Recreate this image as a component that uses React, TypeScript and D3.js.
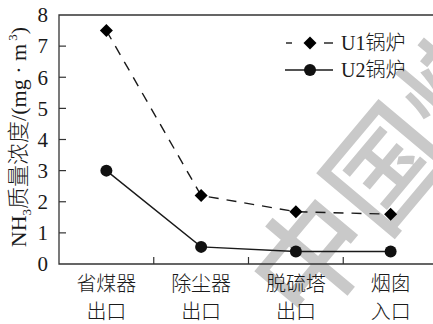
import React from "react";
import * as d3 from "d3";

const categories = ["省煤器|出口", "除尘器|出口", "脱硫塔|出口", "烟囱|入口"];
const u1Values = [7.5, 2.2, 1.68, 1.6];
const u2Values = [3.0, 0.55, 0.4, 0.4];
const yTicks = [0, 1, 2, 3, 4, 5, 6, 7, 8];
const seriesNames = ["U1锅炉", "U2锅炉"];

const W = 433;
const H = 324;
const left = 59;
const top = 15;
const bottom = 264;
const bandRight = 438;

const FONT = "'Liberation Serif', 'Times New Roman', 'Noto Sans CJK SC', serif";
const INK = "#1a1a1a";

export default function App() {
  const x = d3
    .scalePoint<string>()
    .domain(categories)
    .range([left, bandRight])
    .padding(0.5);
  const step = x.step();
  const y = d3.scaleLinear().domain([0, 8]).range([bottom, top]);

  const line = d3
    .line<number>()
    .x((_, i) => x(categories[i]) as number)
    .y((d) => y(d));

  const boundaries = categories.slice(1).map((c) => (x(c) as number) - step / 2);

  const diamond = (cx: number, cy: number, r: number) =>
    `M${cx},${cy - r}L${cx + r},${cy}L${cx},${cy + r}L${cx - r},${cy}Z`;

  return (
    <svg
      width={W}
      height={H}
      style={{ position: "absolute", left: 0, top: 0, background: "#fff" }}
      fontFamily={FONT}
    >
      {/* watermark */}
      <g transform="translate(305,252) rotate(-50)">
        <text
          x={-58}
          y={0}
          dominantBaseline="central"
          fontSize={116}
          fontWeight={500}
          fill="#c9c9c9"
          fontFamily="'Noto Sans CJK SC', sans-serif"
        >
          中国煤
        </text>
      </g>

      {/* frame */}
      <path
        d={`M${W},${top}H${left}V${bottom}H${W}`}
        fill="none"
        stroke="#333"
        strokeWidth={1.3}
      />

      {/* y ticks */}
      {yTicks.map((t) => (
        <g key={t}>
          {t > 0 && t < 8 && (
            <line x1={left} x2={left + 7} y1={y(t)} y2={y(t)} stroke="#333" strokeWidth={1.2} />
          )}
          <text
            x={48}
            y={y(t)}
            dy="0.35em"
            textAnchor="end"
            fontSize={21}
            fill={INK}
          >
            {t}
          </text>
        </g>
      ))}

      {/* x ticks between categories */}
      {boundaries.map((bx, i) => (
        <line key={i} x1={bx} x2={bx} y1={bottom} y2={bottom - 7} stroke="#333" strokeWidth={1.2} />
      ))}

      {/* category labels */}
      {categories.map((c) => {
        const [a, b] = c.split("|");
        return (
          <g key={c} fontSize={20} fontWeight={300} fill={INK} textAnchor="middle">
            <text x={x(c)} y={291}>{a}</text>
            <text x={x(c)} y={319}>{b}</text>
          </g>
        );
      })}

      {/* y axis title */}
      <text
        transform={`translate(26,137) rotate(-90)`}
        textAnchor="middle"
        fontSize={22}
        fontWeight={300}
        fill={INK}
      >
        NH<tspan fontSize={13} dy={5}>3</tspan>
        <tspan dy={-5}>质量浓度/(mg · m</tspan>
        <tspan fontSize={13} dy={-9}> 3</tspan>
        <tspan dy={9}>)</tspan>
      </text>

      {/* series lines */}
      <path
        d={line(u1Values) as string}
        fill="none"
        stroke={INK}
        strokeWidth={1.4}
        strokeDasharray="10,8"
      />
      <path d={line(u2Values) as string} fill="none" stroke={INK} strokeWidth={1.4} />

      {u1Values.map((v, i) => (
        <path key={i} d={diamond(x(categories[i]) as number, y(v), 6.5)} fill="#000" />
      ))}
      {u2Values.map((v, i) => (
        <circle key={i} cx={x(categories[i])} cy={y(v)} r={6} fill="#111" />
      ))}

      {/* legend */}
      <g>
        <line x1={286} x2={292} y1={43} y2={43} stroke={INK} strokeWidth={1.4} />
        <line x1={324} x2={333} y1={43} y2={43} stroke={INK} strokeWidth={1.4} />
        <path d={diamond(310, 43, 6.5)} fill="#000" />
        <text x={341} y={43} dy="0.35em" fontSize={20} fontWeight={300} fill={INK}>
          {seriesNames[0]}
        </text>
        <line x1={285} x2={333} y1={70} y2={70} stroke={INK} strokeWidth={1.4} />
        <circle cx={310} cy={70} r={6} fill="#111" />
        <text x={341} y={70} dy="0.35em" fontSize={20} fontWeight={300} fill={INK}>
          {seriesNames[1]}
        </text>
      </g>
    </svg>
  );
}
